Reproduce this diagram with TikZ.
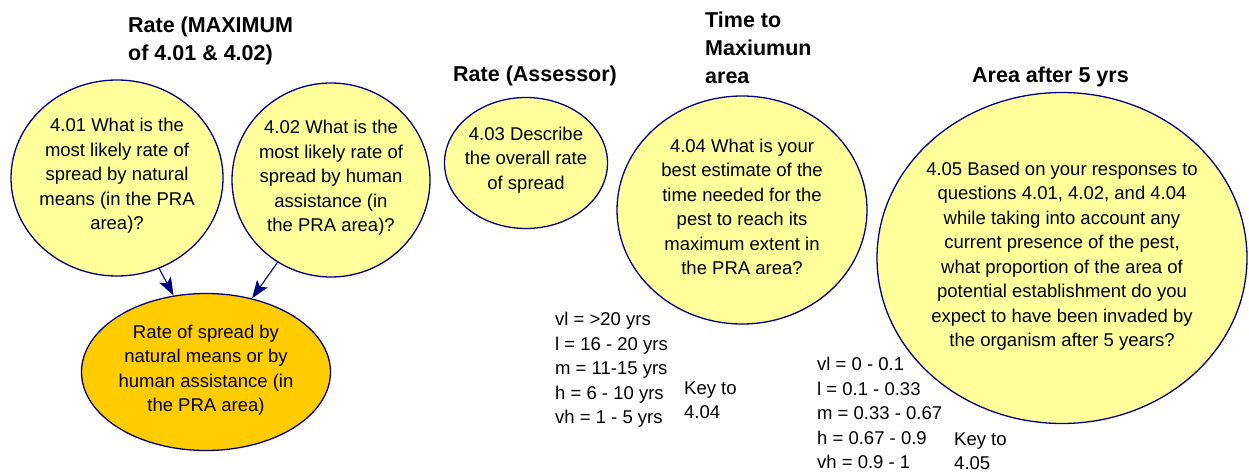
\documentclass[tikz,border=0pt]{standalone}
\usepackage{fontspec}
\setmainfont{Liberation Sans}
\usetikzlibrary{shapes.geometric,arrows.meta}
\definecolor{qyellow}{RGB}{255,255,155}
\definecolor{qorange}{RGB}{255,204,0}
\definecolor{qnavy}{RGB}{0,0,128}
\tikzset{
  qell/.style={ellipse, draw=qnavy, line width=1.3pt, fill=qyellow, inner sep=0pt},
  qtxt/.style={align=center, inner sep=0pt, font=\fontsize{18.5}{24.5}\selectfont},
  ttl/.style={align=left, inner sep=0pt, font=\fontsize{21.5}{28}\selectfont\bfseries},
  keytxt/.style={align=left, inner sep=0pt, font=\fontsize{18.5}{24.5}\selectfont},
  link/.style={draw=qnavy, line width=1.1pt, -{Stealth[length=18pt,width=13pt,inset=4pt]}, fill=qnavy}
}
\begin{document}
\begin{tikzpicture}[x=1pt,y=-1pt]
\useasboundingbox (0,0) rectangle (1249,473);
% titles
\node[ttl, anchor=north west] (t1) at (128,16.5) {Rate (MAXIMUM\\of 4.01 \& 4.02)};
\node[ttl, anchor=base west] (t2) at (453,82) {Rate (Assessor)};
\node[ttl, anchor=north west] (t3) at (705,11.6) {Time to\\Maxiumun\\area};
\node[ttl, anchor=base west] (t4) at (972,83) {Area after 5 yrs};
% ellipses
\node[qell, minimum width=212pt, minimum height=196pt] (n401) at (117,178) {};
\node[qtxt] (x401) at (117,176) {4.01 What is the\\most likely rate of\\spread by natural\\means (in the PRA\\area)?};
\node[qell, minimum width=198pt, minimum height=194pt] (n402) at (331,180) {};
\node[qtxt] (x402) at (331,178) {4.02 What is the\\most likely rate of\\spread by human\\assistance (in\\the PRA area)?};
\node[qell, fill=qorange, minimum width=249pt, minimum height=157pt] (nrate) at (206,372) {};
\node[qtxt] (xrate) at (206,370) {Rate of spread by\\natural means or by\\human assistance (in\\the PRA area)};
\node[qell, minimum width=163pt, minimum height=131pt] (n403) at (526,163) {};
\node[qtxt] (x403) at (526,160) {4.03 Describe\\the overall rate\\of spread};
\node[qell, minimum width=250pt, minimum height=228pt] (n404) at (742,210) {};
\node[qtxt] (x404) at (742,207) {4.04 What is your\\best estimate of the\\time needed for the\\pest to reach its\\maximum extent in\\the PRA area?};
\node[qell, minimum width=370pt, minimum height=331pt] (n405) at (1062,258) {};
\node[qtxt] (x405) at (1062,256) {4.05 Based on your responses to\\questions 4.01, 4.02, and 4.04\\while taking into account any\\current presence of the pest,\\what proportion of the area of\\potential establishment do you\\expect to have been invaded by\\the organism after 5 years?};
% arrows
\draw[link] (n401.-65) -- (nrate.113);
\draw[link] (n402.-123) -- (nrate.58);
% keys
\node[keytxt, anchor=west] (k404) at (555,370) {vl = >20 yrs\\l = 16 - 20 yrs\\m = 11-15 yrs\\h = 6 - 10 yrs\\vh = 1 - 5 yrs};
\node[keytxt, anchor=west] (kk404) at (684,400) {Key to\\4.04};
\node[keytxt, anchor=west] (k405) at (817,413) {vl = 0 - 0.1\\l = 0.1 - 0.33\\m = 0.33 - 0.67\\h = 0.67 - 0.9\\vh = 0.9 - 1};
\node[keytxt, anchor=west] (kk405) at (954,451) {Key to\\4.05};
\end{tikzpicture}
\end{document}
